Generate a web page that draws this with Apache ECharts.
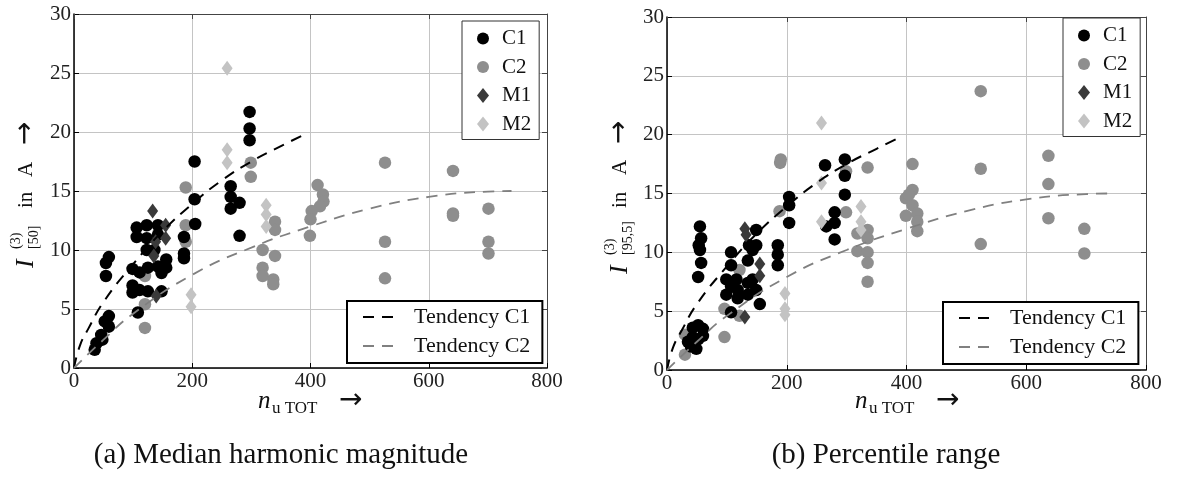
<!DOCTYPE html>
<html><head><meta charset="utf-8">
<script src="https://cdn.jsdelivr.net/npm/echarts@6/dist/echarts.min.js"></script>
<style>html,body{margin:0;padding:0;background:#fff}#c{width:1178px;height:479px}</style>
</head><body><div id="c"></div>
<script>
// ---------- data ----------
const xMax = 800, xStep = 200, yMax = 30, yStep = 5;

// (a) median harmonic magnitude
const aC1 = [[297,21.7],[297,20.3],[297,19.3],[204,17.5],[265,15.4],[265,14.5],[280,14.0],[265,13.5],[204,14.3],[205,12.2],[280,11.2],[186,11.1],[186,9.7],[186,9.3],[106,11.9],[123,12.1],[142,12.1],[106,11.1],[123,11.0],[142,11.3],[123,10.0],[136,10.0],[156,9.2],[142,8.6],[125,8.5],[99,8.4],[111,8.1],[148,8.05],[156,8.5],[99,7.0],[111,6.6],[125,6.5],[148,6.5],[99,6.4],[108,4.7],[59,9.4],[54,8.9],[54,7.8],[59,4.4],[52,3.95],[59,3.5],[46,2.8],[38,2.1],[35,1.55],[48,2.4],[55,4.0]];
const aC2 = [[189,15.3],[189,12.1],[189,10.7],[299,17.4],[299,16.2],[412,15.5],[421,14.7],[422,14.1],[416,13.7],[402,13.3],[400,12.6],[399,11.2],[319,10.0],[319,8.5],[319,7.8],[337,7.5],[337,7.1],[340,12.4],[340,11.7],[340,9.5],[120,3.4],[120,5.4],[120,7.8],[526,17.4],[526,10.7],[526,7.6],[641,16.7],[641,13.1],[641,12.9],[701,13.5],[701,10.7],[701,9.7]];
const aM1 = [[133,13.3],[155,12.1],[155,11.0],[138,10.7],[135,9.5],[139,6.1]];
const aM2 = [[259,25.4],[259,18.5],[259,17.4],[325,13.8],[325,13.0],[325,12.0],[198,6.2],[198,5.2]];

// (b) percentile range
const bC1 = [[264,17.4],[297,17.9],[297,16.5],[297,14.9],[204,14.7],[204,14.0],[204,12.5],[280,13.4],[266,12.2],[280,12.5],[280,11.1],[185,10.6],[185,9.8],[185,8.9],[55,12.2],[57,11.2],[53,10.6],[55,10.2],[57,9.1],[52,7.9],[43,3.6],[52,3.8],[60,3.5],[43,2.8],[52,2.6],[35,2.4],[49,1.8],[60,2.9],[40,2.0],[107,10.0],[107,8.9],[99,7.7],[107,7.1],[99,6.4],[107,4.9],[116,7.7],[118,6.8],[135,7.4],[135,6.4],[143,7.7],[149,6.8],[118,6.1],[149,11.9],[135,9.3],[143,10.2],[149,10.6],[155,5.6],[137,10.6]];
const bC2 = [[30,3.0],[30,1.3],[96,2.8],[96,5.2],[121,8.5],[121,4.6],[188,13.5],[189,17.6],[190,17.9],[299,13.4],[299,16.9],[318,11.6],[318,10.1],[335,17.2],[335,11.9],[335,11.2],[335,10.0],[335,9.1],[335,7.5],[399,14.6],[399,13.1],[410,15.3],[410,14.0],[410,17.5],[418,13.3],[418,12.6],[418,11.8],[404,14.9],[524,23.7],[524,17.1],[524,10.7],[637,18.2],[637,15.8],[637,12.9],[697,12.0],[697,9.9]];
const bM1 = [[130,12.0],[132,11.5],[155,9.0],[155,8.0],[130,4.5]];
const bM2 = [[258,21.0],[258,15.9],[258,12.6],[324,13.9],[324,12.6],[324,11.9],[197,6.5],[197,5.2],[197,4.7]];

// tendency curves
const tendC1 = [[0,0],[10,1.9],[25,3.4],[50,5.6],[100,8.8],[150,11.6],[200,13.9],[250,15.9],[300,17.5],[350,18.8],[390,19.8]];
const tendC2 = [[0,0],[50,2.4],[100,4.6],[200,7.9],[300,10.2],[400,12.0],[500,13.5],[600,14.5],[700,14.95],[740,15.0]];

const captions = ['(a) Median harmonic magnitude', '(b) Percentile range'];
const yLabelSubs = ['[50]', '[95,5]'];

// ---------- chart ----------
const SERIF = '"Liberation Serif","Times New Roman",serif';
const COL = { C1:'#000000', C2:'#8e8e8e', M1:'#3a3a3a', M2:'#c3c3c3' };
const grids = [
  { left: 74, top: 14, width: 473, height: 354 },
  { left: 667, top: 17, width: 479, height: 353 }
];

const xAxis = [], yAxis = [];
grids.forEach((g, gi) => {
  xAxis.push({ type:'value', gridIndex:gi, min:0, max:xMax, interval:xStep,
    axisLine:{ show:true, onZero:false, lineStyle:{ color:'#000', width:1.5 } },
    axisTick:{ show:true, inside:true, length:5, lineStyle:{ color:'#000' } },
    axisLabel:{ color:'#222', fontFamily:SERIF, fontSize:21, margin:3 },
    splitLine:{ show:true, lineStyle:{ color:'#c4c4c4', width:1 } } });
  xAxis.push({ type:'value', gridIndex:gi, position:'top', min:0, max:xMax, interval:xStep,
    axisLine:{ show:true, onZero:false, lineStyle:{ color:'#444', width:1 } },
    axisTick:{ show:true, inside:true, length:5, lineStyle:{ color:'#444' } },
    axisLabel:{ show:false }, splitLine:{ show:false } });
  yAxis.push({ type:'value', gridIndex:gi, min:0, max:yMax, interval:yStep,
    axisLine:{ show:true, onZero:false, lineStyle:{ color:'#000', width:1.5 } },
    axisTick:{ show:true, inside:true, length:5, lineStyle:{ color:'#000' } },
    axisLabel:{ color:'#222', fontFamily:SERIF, fontSize:21, margin:3 },
    splitLine:{ show:true, lineStyle:{ color:'#c4c4c4', width:1 } } });
  yAxis.push({ type:'value', gridIndex:gi, position:'right', min:0, max:yMax, interval:yStep,
    axisLine:{ show:true, onZero:false, lineStyle:{ color:'#444', width:1 } },
    axisTick:{ show:true, inside:true, length:5, lineStyle:{ color:'#444' } },
    axisLabel:{ show:false }, splitLine:{ show:false } });
});

function scatter(name, data, gi, symbol, z) {
  return { type:'scatter', name, data, xAxisIndex:gi*2, yAxisIndex:gi*2,
    symbol, symbolSize: symbol === 'circle' ? 12.5 : [11,15],
    itemStyle:{ color:COL[name], opacity:1 }, z, silent:true };
}
function tend(name, data, gi, color, w) {
  return { type:'line', name, data, xAxisIndex:gi*2, yAxisIndex:gi*2, smooth:true,
    symbol:'none', showSymbol:false, lineStyle:{ color, width:w, type:[11,8] }, itemStyle:{ color }, z:6, silent:true };
}

const series = [];
[[aC1,aC2,aM1,aM2],[bC1,bC2,bM1,bM2]].forEach((s, gi) => {
  series.push(scatter('C2', s[1], gi, 'circle', 2));
  series.push(scatter('C1', s[0], gi, 'circle', 3));
  series.push(scatter('M1', s[2], gi, 'diamond', 4));
  series.push(scatter('M2', s[3], gi, 'diamond', 4));
  series.push(tend('Tendency C1', tendC1, gi, '#000', 2));
  series.push(tend('Tendency C2', tendC2, gi, '#808080', 1.8));
});

function markLegend(left, top) {
  return { orient:'vertical', left, top, selectedMode:false,
    data:[{name:'C1',icon:'circle'},{name:'C2',icon:'circle'},{name:'M1',icon:'diamond'},{name:'M2',icon:'diamond'}],
    itemWidth:12, itemHeight:15, itemGap:7.5, padding:[7,8,5,15],
    borderColor:'#333', borderWidth:1, backgroundColor:'#fff', z:10,
    textStyle:{ fontFamily:SERIF, fontSize:21, color:'#111', padding:[0,0,0,8] } };
}
const hideSym = { color:'rgba(0,0,0,0)', borderColor:'rgba(0,0,0,0)', borderWidth:0, opacity:0 };
function tendLegend(left, top) {
  return { orient:'vertical', left, top, selectedMode:false,
    data:[{name:'Tendency C1', itemStyle:hideSym},{name:'Tendency C2', itemStyle:hideSym}],
    itemWidth:38, itemHeight:14, itemGap:7, padding:[5,12,6,15],
    borderColor:'#000', borderWidth:2, backgroundColor:'#fff', z:10,
    textStyle:{ fontFamily:SERIF, fontSize:22, color:'#111', padding:[0,0,0,8] } };
}

function txt(text, x, y, font, extra) {
  return Object.assign({ type:'text', x, y, silent:true,
    style:{ text, font, fill:'#111', align:'left', verticalAlign:'middle' } }, extra || {});
}
function xName(x0, y0) {
  return { type:'group', x:x0, y:y0, silent:true, children:[
    txt('n', 0, 0, 'italic 25px ' + SERIF),
    txt('u TOT', 14, 8, '17px ' + SERIF),
    txt('\u2192', 81, 0, '28px "DejaVu Sans",sans-serif')
  ]};
}
function yName(x0, y0, sub, offs) {
  return { type:'group', x:x0, y:y0, rotation:Math.PI/2, silent:true, children:[
    txt('I', 0, 0, 'italic 26px ' + SERIF),
    txt('(3)', 19, -10, '14px ' + SERIF),
    txt(sub, 19, 8, '14px ' + SERIF),
    txt('in', offs[0], 0, '21px ' + SERIF),
    txt('A', offs[1], 0, '21px ' + SERIF),
    txt('\u2192', offs[2], 0, '28px "DejaVu Sans",sans-serif')
  ]};
}

const graphic = [
  xName(258, 401), xName(855, 401),
  yName(26, 268, yLabelSubs[0], [60, 91, 123]),
  yName(620, 274, yLabelSubs[1], [66, 99, 130]),
  { type:'text', x:281, y:455, silent:true, style:{ text:captions[0], font:'29px ' + SERIF, fill:'#111', align:'center', verticalAlign:'middle' } },
  { type:'text', x:886, y:455, silent:true, style:{ text:captions[1], font:'29px ' + SERIF, fill:'#111', align:'center', verticalAlign:'middle' } }
];

const chart = echarts.init(document.getElementById('c'), null, { renderer:'canvas' });
chart.setOption({
  animation:false, backgroundColor:'#fff',
  grid: grids, xAxis, yAxis, series,
  legend:[ markLegend(462, 21), tendLegend(347, 301), markLegend(1063, 18), tendLegend(943, 302) ],
  graphic
});
</script></body></html>
